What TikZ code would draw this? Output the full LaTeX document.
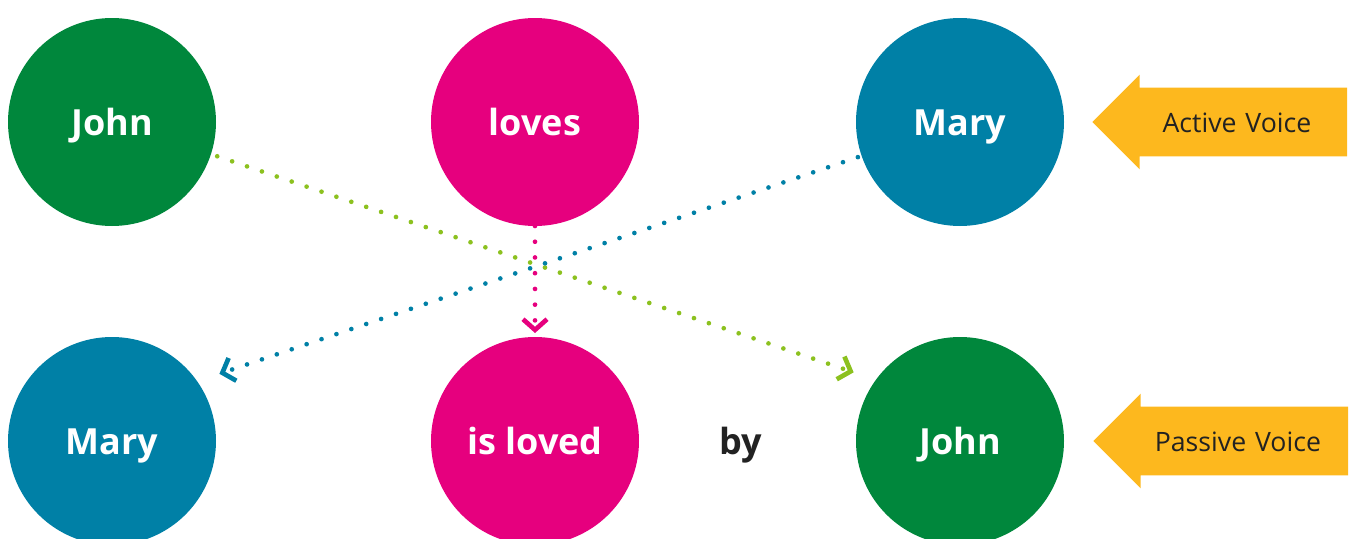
\documentclass[tikz,border=0pt]{standalone}
\usepackage{fontspec}
\setmainfont{Open Sans}
\usetikzlibrary{positioning,arrows.meta,shapes.arrows}
\definecolor{johngreen}{HTML}{00873C}
\definecolor{verbpink}{HTML}{E6007E}
\definecolor{maryblue}{HTML}{0080A6}
\definecolor{voiceyellow}{HTML}{FDB81E}
\definecolor{dotgreen}{HTML}{8CC11F}
\definecolor{bytext}{HTML}{222222}
\begin{document}
\begin{tikzpicture}[
		x=0.75pt, y=-0.75pt,
		bubble/.style={circle, minimum size=156pt, inner sep=0pt, outer sep=0pt, text height=24pt, text depth=4.5pt, text=white, font=\fontsize{27}{32}\selectfont\bfseries},
		voice/.style={single arrow, shape border rotate=180, fill=voiceyellow, single arrow head extend=9.75pt, single arrow tip angle=90, text width=144pt, align=center, text height=17pt, text depth=1pt, inner xsep=10.5pt, inner ysep=16.5pt, text=bytext, font=\fontsize{20}{24}\selectfont},
		dotline/.style={line width=3.5pt, line cap=round, dash pattern=on 0pt off 11.8pt},
		chevron/.style={-{Straight Barb[length=8pt, width=18pt, line width=3.5pt, sharp]}}
		]
		\useasboundingbox (0,0) rectangle (1354,539);
		% Active sentence
		\node[bubble, fill=johngreen] (john) at (112,122) {John};
		\node[bubble, fill=verbpink, right=161.25pt of john] (loves) {loves};
		\node[bubble, fill=maryblue, right=162.75pt of loves] (mary) {Mary};
		% Passive sentence
		\node[bubble, fill=maryblue, below=83.25pt of john] (mary2) {Mary};
		\node[bubble, fill=verbpink, below=83.25pt of loves] (isloved) {is loved};
		\node[bubble, fill=johngreen, below=83.25pt of mary] (john2) {John};
		\node[right=60pt of isloved, inner sep=0pt, text height=24pt, text depth=4.5pt, text=bytext, font=\fontsize{27}{32}\selectfont\bfseries] (by) {by};
		% Voice labels
		\node[voice, right=21pt of mary, anchor=tip] (active) {Active Voice};
		\node[voice, right=21.75pt of john2, anchor=tip] (passive) {Passive Voice};
		
		% Dotted arrows
		\draw[dotline, dotgreen, chevron, shorten <=5pt, shorten >=17.6pt] (john.-18) -- (john2.144.5);
		\draw[dotline, maryblue, chevron, shorten <=3pt, shorten >=17.6pt] (mary.199) -- (mary2.35.5);
		\draw[dotline, verbpink, chevron, shorten >=3pt] (loves) -- (isloved);
	\end{tikzpicture}
\end{document}
